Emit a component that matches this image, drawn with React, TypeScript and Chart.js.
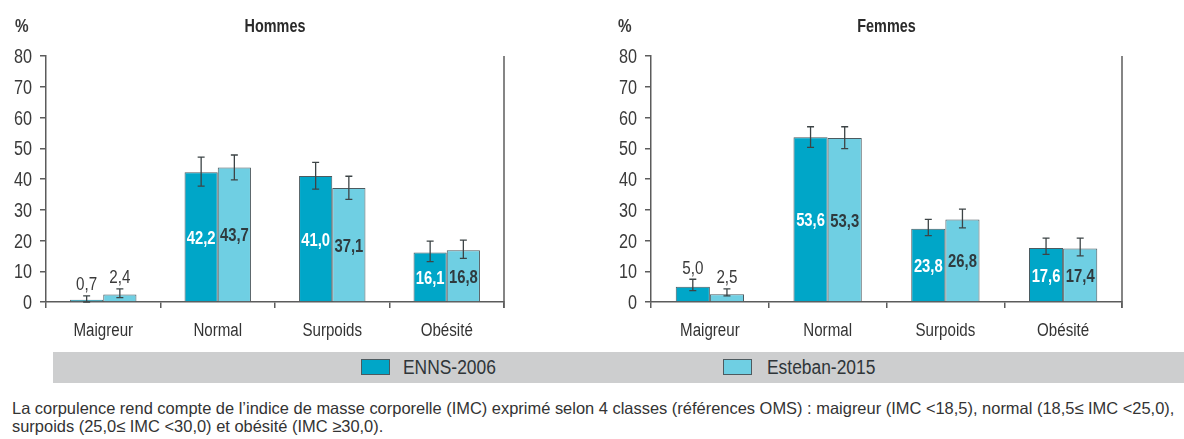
import React, { useEffect, useLayoutEffect, useRef } from "react";
import { Chart, registerables } from "chart.js";

Chart.register(...registerables);

const categories = ["Maigreur", "Normal", "Surpoids", "Obésité"];
const seriesNames = ["ENNS-2006", "Esteban-2015"];
const yTickValues = [0, 10, 20, 30, 40, 50, 60, 70, 80];
const yTickLabels = ["0", "10", "20", "30", "40", "50", "60", "70", "80"];

const hommesEnns = [0.7, 42.2, 41.0, 16.1];
const hommesEsteban = [2.4, 43.7, 37.1, 16.8];
const hommesEnnsLow = [0.0, 37.7, 36.7, 13.1];
const hommesEnnsHigh = [2.0, 47.1, 45.4, 19.8];
const hommesEstebanLow = [1.4, 39.7, 33.4, 14.2];
const hommesEstebanHigh = [4.3, 47.8, 40.9, 20.1];

const femmesEnns = [5.0, 53.6, 23.8, 17.6];
const femmesEsteban = [2.5, 53.3, 26.8, 17.4];
const femmesEnnsLow = [3.7, 50.3, 21.6, 15.5];
const femmesEnnsHigh = [7.4, 57.0, 26.9, 20.8];
const femmesEstebanLow = [2.0, 49.9, 24.1, 15.0];
const femmesEstebanHigh = [4.3, 57.0, 30.2, 20.8];

const noteLine1 =
  "La corpulence rend compte de l’indice de masse corporelle (IMC) exprimé selon 4 classes (références OMS) : maigreur (IMC <18,5), normal (18,5≤ IMC <25,0),";
const noteLine2 = "surpoids (25,0≤ IMC <30,0) et obésité (IMC ≥30,0).";

const FF = '"Liberation Sans", Arial, sans-serif';
const COLOR_ENNS = "#00a6c8";
const COLOR_ESTEBAN = "#6fcfe3";
const BORDER = "#4d5a5f";
const AXIS = "#5c5c5c";
const TEXT = "#3a3a3a";
const SX = 0.81;

const fmt = (v: number) => v.toFixed(1).replace(".", ",");

function narrowText(ctx: any, text: string, x: number, y: number, align: string, font: string, color: string, sx = SX) {
  ctx.save();
  ctx.translate(x, y);
  ctx.scale(sx, 1);
  ctx.font = font;
  ctx.fillStyle = color;
  ctx.textAlign = align;
  ctx.textBaseline = "alphabetic";
  ctx.fillText(text, 0, 0);
  ctx.restore();
}

const overlayPlugin = {
  id: "overlay",
  afterDatasetsDraw(chart: any) {
    const o = chart.options.plugins.overlay;
    const ctx = chart.ctx;
    const ys = chart.scales.y;
    const xs = chart.scales.x;
    const area = chart.chartArea;
    ctx.save();
    // right border line
    ctx.strokeStyle = AXIS;
    ctx.lineWidth = 1.5;
    ctx.beginPath();
    ctx.moveTo(area.right, area.top);
    ctx.lineTo(area.right, area.bottom + 6);
    ctx.stroke();
    // error bars
    chart.data.datasets.forEach((ds: any, i: number) => {
      const meta = chart.getDatasetMeta(i);
      meta.data.forEach((bar: any, j: number) => {
        const yl = ys.getPixelForValue(ds.low[j]);
        const yh = ys.getPixelForValue(ds.high[j]);
        ctx.strokeStyle = "#3d4446";
        ctx.lineWidth = 1.3;
        ctx.beginPath();
        ctx.moveTo(bar.x, yl);
        ctx.lineTo(bar.x, yh);
        ctx.moveTo(bar.x - 3.5, yl);
        ctx.lineTo(bar.x + 3.5, yl);
        ctx.moveTo(bar.x - 3.5, yh);
        ctx.lineTo(bar.x + 3.5, yh);
        ctx.stroke();
      });
    });
    // value labels
    chart.data.datasets.forEach((ds: any, i: number) => {
      const meta = chart.getDatasetMeta(i);
      meta.data.forEach((bar: any, j: number) => {
        const v = ds.data[j];
        if (v < 10) {
          const cy = ys.getPixelForValue(ds.high[j]) - 12;
          narrowText(ctx, fmt(v), bar.x, cy + 6.5, "center", `19px ${FF}`, TEXT, 0.8);
        } else {
          const cy = (bar.y + bar.base) / 2;
          narrowText(ctx, fmt(v), bar.x, cy + 7, "center", `bold 19px ${FF}`, i === 0 ? "#ffffff" : "#2f3a3e", 0.78);
        }
      });
    });
    // y tick labels
    ys.ticks.forEach((t: any, i: number) => {
      const y = ys.getPixelForValue(t.value);
      narrowText(ctx, yTickLabels[i], area.left - 14, y + 7, "right", `20px ${FF}`, TEXT);
    });
    // x tick labels
    xs.ticks.forEach((t: any, i: number) => {
      const x = xs.getPixelForTick(i);
      narrowText(ctx, chart.data.labels[i], x, area.bottom + 34, "center", `18px ${FF}`, "#333333", 0.84);
    });
    // titles
    narrowText(ctx, "%", o.pctX, 32, "left", `bold 18px ${FF}`, TEXT, 0.85);
    narrowText(ctx, o.title, (area.left + area.right) / 2, 32, "center", `bold 18px ${FF}`, "#2a2a2a", 0.8);
    ctx.restore();
  },
};

function makeConfig(title: string, pctX: number, a: number[], b: number[], aLow: number[], aHigh: number[], bLow: number[], bHigh: number[]) {
  return {
    type: "bar",
    data: {
      labels: categories,
      datasets: [
        { label: seriesNames[0], data: a, low: aLow, high: aHigh, backgroundColor: COLOR_ENNS, borderColor: BORDER, borderWidth: 1, barPercentage: 1, categoryPercentage: 0.58 },
        { label: seriesNames[1], data: b, low: bLow, high: bHigh, backgroundColor: COLOR_ESTEBAN, borderColor: BORDER, borderWidth: 1, barPercentage: 1, categoryPercentage: 0.58 },
      ],
    },
    options: {
      animation: false,
      responsive: false,
      maintainAspectRatio: false,
      layout: { padding: { top: 56, right: 16, left: 0, bottom: 0 } },
      plugins: {
        legend: { display: false },
        tooltip: { enabled: false },
        overlay: { title, pctX },
      },
      scales: {
        x: {
          grid: { display: true, drawOnChartArea: false, drawTicks: true, tickLength: 6, color: AXIS, lineWidth: 1.5, offset: true },
          border: { display: true, color: AXIS, width: 1.5 },
          ticks: { color: "rgba(0,0,0,0)", font: { family: FF, size: 18 }, padding: 9 },
          afterFit: (s: any) => { s.height = 43; },
        },
        y: {
          min: yTickValues[0],
          max: yTickValues[yTickValues.length - 1],
          afterBuildTicks: (s: any) => { s.ticks = yTickValues.map((v) => ({ value: v })); },
          grid: { display: true, drawOnChartArea: false, drawTicks: true, tickLength: 6, color: AXIS, lineWidth: 1.5 },
          border: { display: true, color: AXIS, width: 1.5 },
          ticks: { color: "rgba(0,0,0,0)", font: { family: FF, size: 20 }, padding: 8 },
          afterFit: (s: any) => { s.width = 46; },
        },
      },
    },
    plugins: [overlayPlugin],
  };
}

function BarPanel(props: { left: number; width: number; cfg: any }) {
  const ref = useRef<HTMLCanvasElement>(null);
  useEffect(() => {
    const chart = new Chart(ref.current as HTMLCanvasElement, props.cfg);
    return () => chart.destroy();
  }, []);
  return (
    <canvas
      ref={ref}
      width={props.width}
      height={345}
      style={{ position: "absolute", left: props.left, top: 0, width: props.width, height: 345 }}
    />
  );
}

function Footnote() {
  const r1 = useRef<HTMLDivElement>(null);
  const r2 = useRef<HTMLDivElement>(null);
  useLayoutEffect(() => {
    if (!r1.current || !r2.current) return;
    const s = 1162 / r1.current.scrollWidth;
    r1.current.style.transform = `scaleX(${s})`;
    r2.current.style.transform = `scaleX(${s})`;
  }, []);
  const st = (top: number): React.CSSProperties => ({
    position: "absolute",
    left: 12,
    top,
    fontFamily: FF,
    fontSize: 16.5,
    lineHeight: "18px",
    color: "#333",
    whiteSpace: "nowrap",
    transformOrigin: "0 0",
    display: "inline-block",
  });
  return (
    <>
      <div ref={r1} style={st(399)}>{noteLine1}</div>
      <div ref={r2} style={st(417)}>{noteLine2}</div>
    </>
  );
}

export default function App() {
  const hommes = makeConfig("Hommes", 15, hommesEnns, hommesEsteban, hommesEnnsLow, hommesEnnsHigh, hommesEstebanLow, hommesEstebanHigh);
  const femmes = makeConfig("Femmes", 13, femmesEnns, femmesEsteban, femmesEnnsLow, femmesEnnsHigh, femmesEstebanLow, femmesEstebanHigh);
  const legendText: React.CSSProperties = {
    position: "absolute",
    top: 352,
    height: 31,
    lineHeight: "31px",
    fontFamily: FF,
    fontSize: 20,
    color: "#2f3538",
    whiteSpace: "nowrap",
    transform: "scaleX(0.87)",
    transformOrigin: "0 0",
  };
  const box = (c: string, left: number): React.CSSProperties => ({ position: "absolute", left, top: 359, width: 27, height: 14, background: c, border: `1px solid ${BORDER}` });
  return (
    <div style={{ position: "absolute", left: 0, top: 0, width: 1184, height: 439, background: "#fff", overflow: "hidden" }}>
      <BarPanel left={0} width={520} cfg={hommes} />
      <BarPanel left={605} width={533} cfg={femmes} />
      <div style={{ position: "absolute", left: 53, top: 352, width: 1131, height: 31, background: "#cdcecf" }} />
      <div style={box(COLOR_ENNS, 361)} />
      <div style={{ ...legendText, left: 403 }}>{seriesNames[0]}</div>
      <div style={box(COLOR_ESTEBAN, 723)} />
      <div style={{ ...legendText, left: 767 }}>{seriesNames[1]}</div>
      <Footnote />
    </div>
  );
}
